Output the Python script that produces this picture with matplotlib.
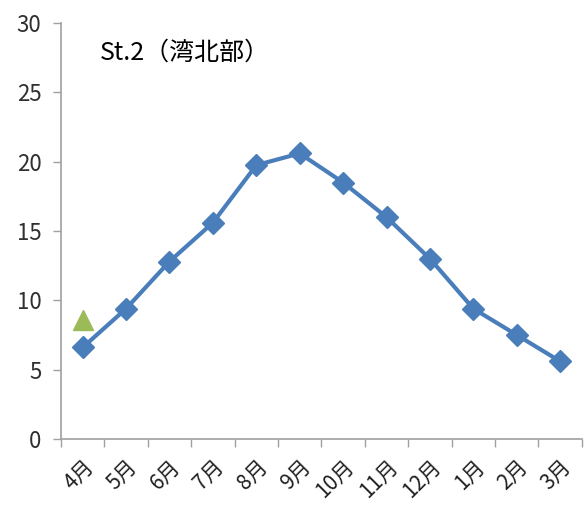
import matplotlib.pyplot as plt
import numpy as np

plt.switch_backend('Agg')
plt.rcParams['font.family'] = ['Noto Sans CJK JP', 'DejaVu Sans']

# Monthly values (Apr - Mar)
months = ['4月', '5月', '6月', '7月', '8月', '9月', '10月', '11月', '12月', '1月', '2月', '3月']
values = [6.6, 9.4, 12.8, 15.6, 19.75, 20.6, 18.5, 16.0, 13.0, 9.4, 7.5, 5.6]
# single extra point at April
extra_month = 0
extra_value = 8.6

fig = plt.figure(figsize=(5.86, 5.13), dpi=100)
ax = fig.add_axes([0.104, 0.1443, 0.889, 0.8107])

x = np.arange(len(months))
ax.plot(x, values, color='#4a7ebb', linewidth=3, marker='D', markersize=11,
        markerfacecolor='#4a7ebb', markeredgecolor='#4a7ebb', zorder=3)
ax.plot([extra_month], [extra_value], linestyle='none', marker='^', markersize=15,
        color='#9bbb59', zorder=3)

ax.set_xlim(-0.5, len(months) - 0.5)
ax.set_ylim(0, 30)
ax.set_yticks(np.arange(0, 31, 5))

# category labels centered, tick marks at category boundaries
ax.set_xticks(x)
ax.set_xticklabels(months, rotation=45, ha='right', rotation_mode='anchor', fontsize=15)
ax.set_xticks(np.arange(-0.5, len(months), 1), minor=True)
ax.tick_params(axis='x', which='major', length=0, pad=12, labelcolor='#202020')
ax.tick_params(axis='x', which='minor', length=6, color='#a0a0a0', width=1)
ax.tick_params(axis='y', length=6, color='#a0a0a0', width=1, labelsize=16, pad=8,
               labelcolor='#303030')

for side in ['top', 'right']:
    ax.spines[side].set_visible(False)
for side in ['left', 'bottom']:
    ax.spines[side].set_color('#a0a0a0')
    ax.spines[side].set_linewidth(1.2)

ax.text(0.075, 0.93, 'St.2（湾北部）', transform=ax.transAxes, fontsize=18,
        ha='left', va='center', color='black')

plt.savefig('out.png', dpi=100)
plt.close(fig)
